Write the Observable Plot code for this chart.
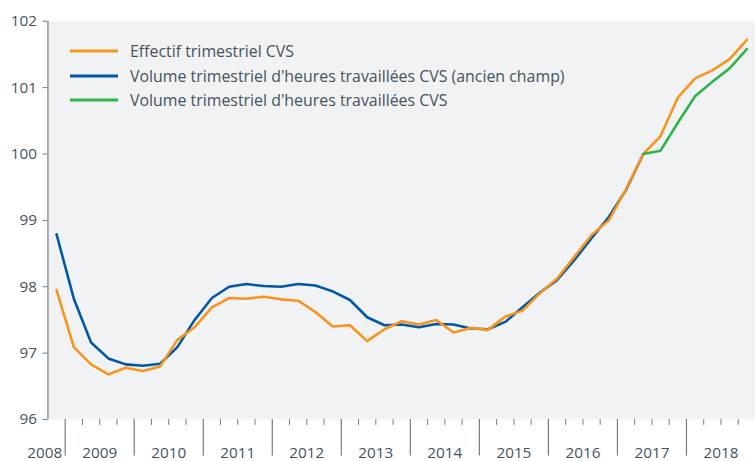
<!DOCTYPE html>
<html>
<head>
<meta charset="utf-8">
<script src="https://cdn.jsdelivr.net/npm/d3@7"></script>
<script src="https://cdn.jsdelivr.net/npm/@observablehq/plot@0.6"></script>
<style>
  html, body { margin: 0; padding: 0; background: #ffffff; }
  #wrap { position: relative; width: 755px; height: 461px; overflow: hidden; font-family: "Open Sans", "Noto Sans", sans-serif; }
  #legend { position: absolute; left: 70px; top: 38.75px; color: #46525d; font-size: 15.9px; }
  #legend .row { display: flex; align-items: center; height: 24.5px; white-space: nowrap; }
  #legend svg { margin-right: 12px; }
</style>
</head>
<body>
<div id="wrap"><div id="chart"></div><div id="legend"></div></div>
<script>
// Quarters (T = trimestre)
const quarters = [
  "2008T4",
  "2009T1","2009T2","2009T3","2009T4",
  "2010T1","2010T2","2010T3","2010T4",
  "2011T1","2011T2","2011T3","2011T4",
  "2012T1","2012T2","2012T3","2012T4",
  "2013T1","2013T2","2013T3","2013T4",
  "2014T1","2014T2","2014T3","2014T4",
  "2015T1","2015T2","2015T3","2015T4",
  "2016T1","2016T2","2016T3","2016T4",
  "2017T1","2017T2","2017T3","2017T4",
  "2018T1","2018T2","2018T3","2018T4"
];

// Effectif trimestriel CVS (2008T4 .. 2018T4)
const effectif = [
  97.95,
  97.09, 96.83, 96.68, 96.78,
  96.73, 96.80, 97.20, 97.39,
  97.69, 97.83, 97.82, 97.85,
  97.81, 97.79, 97.62, 97.40,
  97.42, 97.18, 97.36, 97.48,
  97.43, 97.50, 97.31, 97.38,
  97.35, 97.55, 97.64, 97.90,
  98.12, 98.45, 98.78, 99.00,
  99.47, 100.00, 100.27, 100.85,
  101.14, 101.26, 101.43, 101.72
];

// Volume trimestriel d'heures travaillées CVS (ancien champ) (2008T4 .. 2017T2)
const volumeAncien = [
  98.79,
  97.82, 97.16, 96.92, 96.83,
  96.81, 96.84, 97.09, 97.50,
  97.83, 98.00, 98.04, 98.01,
  98.00, 98.04, 98.02, 97.93,
  97.80, 97.54, 97.42, 97.43,
  97.39, 97.44, 97.43, 97.37,
  97.36, 97.47, 97.69, 97.91,
  98.10, 98.40, 98.73, 99.05,
  99.46, 100.00
];

// Volume trimestriel d'heures travaillées CVS (2017T2 .. 2018T4)
const volumeNouveauStart = "2017T2";
const volumeNouveau = [100.00, 100.05, 100.47, 100.87, 101.09, 101.29, 101.58];

const yTicks = [96, 97, 98, 99, 100, 101, 102];
const yearLabels = ["2009","2010","2011","2012","2013","2014","2015","2016","2017","2018"];
const firstYearLabel = "2008";

const seriesNames = [
  "Effectif trimestriel CVS",
  "Volume trimestriel d'heures travaillées CVS (ancien champ)",
  "Volume trimestriel d'heures travaillées CVS"
];
const colors = ["#f7941d", "#0057a6", "#30b34b"];

// ---- build tables ----
const qTime = (label) => {
  const y = +label.slice(0, 4), q = +label.slice(5);
  return y + (q - 0.5) / 4;          // quarter midpoint
};
const qStart = (label) => {
  const y = +label.slice(0, 4), q = +label.slice(5);
  return y + (q - 1) / 4;
};
const startIdx = quarters.indexOf(volumeNouveauStart);
const dEff = effectif.map((v, i) => ({t: qTime(quarters[i]), v}));
const dAnc = volumeAncien.map((v, i) => ({t: qTime(quarters[i]), v}));
const dNew = volumeNouveau.map((v, i) => ({t: qTime(quarters[startIdx + i]), v}));

const lastQ = quarters[quarters.length - 1];
const xDomain = [qStart(quarters[0]), qStart(lastQ) + 0.25];
const yearStarts = yearLabels.map(Number);
const quarterTicks = quarters.map(qStart).filter(s => s !== xDomain[0] && !yearStarts.includes(s));
const yearMids = yearStarts.map(y => y + 0.5);

const axisColor = "#6f7a84";
const textColor = "#46525d";

const chart = Plot.plot({
  width: 764,
  height: 461,
  marginLeft: 48,
  marginRight: 0,
  marginTop: 21,
  marginBottom: 37,
  x: {domain: xDomain, axis: null},
  y: {domain: [yTicks[0], yTicks[yTicks.length - 1]], axis: null},
  style: {fontFamily: "'Open Sans', 'Noto Sans', sans-serif", fontSize: "15px", color: textColor, background: "transparent", overflow: "visible"},
  marks: [
    Plot.frame({fill: "#f0f2f4", stroke: null}),
    Plot.axisY({ticks: yTicks, tickSize: 5, tickPadding: 6, stroke: axisColor, fill: textColor, fontSize: 15.5,
      tickFormat: d => String(d), label: null}),
    Plot.ruleX([xDomain[0]], {stroke: axisColor, strokeWidth: 1.2}),
    Plot.axisX({ticks: quarterTicks, tickSize: 6, tickFormat: () => "", stroke: axisColor, label: null}),
    Plot.axisX({ticks: yearStarts, tickSize: 37, tickFormat: () => "", stroke: axisColor, strokeWidth: 1.2, label: null}),
    Plot.axisX({ticks: yearMids, tickSize: 0, tickPadding: 28, lineAnchor: "top", fill: textColor, fontSize: 15.5,
      tickFormat: d => String(Math.floor(d)), label: null}),
    Plot.axisX({ticks: [yearStarts[0]], tickSize: 0, tickPadding: 28, lineAnchor: "top", fill: textColor, fontSize: 15.5,
      textAnchor: "end", dx: -3, tickFormat: () => firstYearLabel, label: null}),
    Plot.line(dAnc, {x: "t", y: "v", stroke: colors[1], strokeWidth: 2.6}),
    Plot.line(dEff, {x: "t", y: "v", stroke: colors[0], strokeWidth: 2.6}),
    Plot.line(dNew, {x: "t", y: "v", stroke: colors[2], strokeWidth: 2.6})
  ]
});
document.getElementById("chart").appendChild(chart);

const legend = document.getElementById("legend");
seriesNames.forEach((name, i) => {
  const row = document.createElement("div");
  row.className = "row";
  row.innerHTML = `<svg width="48" height="6"><line x1="0" x2="48" y1="3" y2="3" stroke="${colors[i]}" stroke-width="3"/></svg><span></span>`;
  row.querySelector("span").textContent = name;
  legend.appendChild(row);
});
</script>
</body>
</html>
